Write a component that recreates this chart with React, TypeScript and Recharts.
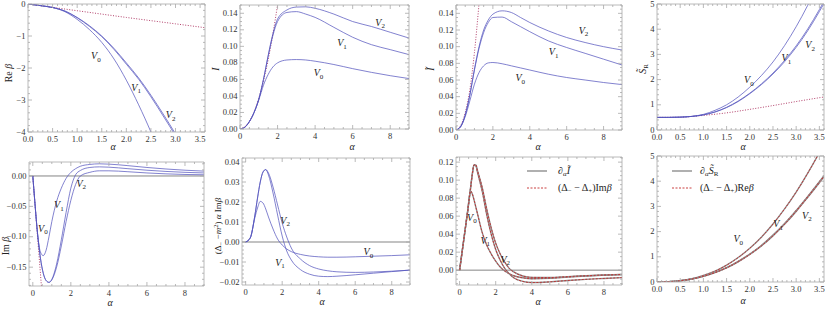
import React from "react";
import { LineChart, Line, XAxis, YAxis, ReferenceLine, ReferenceDot } from "recharts";

// ---- Re beta (top left) ----
const reBetaAlpha = [0, 0.25, 0.5, 0.75, 1, 1.25, 1.5, 1.75, 2, 2.25, 2.5, 2.75, 3, 3.25];
const reBetaV0 = [0, -0.05, -0.11, -0.24, -0.48, -0.8, -1.2, -1.72, -2.38, -3.15, -4.0, -4.95, -6.0, -7.1];
const reBetaV1 = [0, -0.05, -0.11, -0.22, -0.43, -0.7, -1.02, -1.42, -1.88, -2.35, -2.9, -3.5, -4.12, -4.8];
const reBetaV2 = [0, -0.05, -0.11, -0.22, -0.42, -0.68, -1.0, -1.39, -1.84, -2.31, -2.85, -3.44, -4.06, -4.72];
const reBetaDotAlpha = [0, 1, 2, 3, 3.6];
const reBetaDot = [0, -0.21, -0.42, -0.62, -0.74];

// ---- I ----
const iAlpha = [0, 0.25, 0.5, 0.75, 1, 1.25, 1.5, 1.75, 2, 2.5, 3, 3.5, 4, 5, 6, 7, 8, 9];
const iV0 = [0, 0.002, 0.009, 0.02, 0.035, 0.053, 0.066, 0.075, 0.08, 0.0835, 0.084, 0.0835, 0.082, 0.078, 0.073, 0.0685, 0.0645, 0.061];
const iV1 = [0, 0.002, 0.009, 0.02, 0.036, 0.06, 0.088, 0.113, 0.13, 0.141, 0.142, 0.139, 0.135, 0.123, 0.111, 0.102, 0.096, 0.09];
const iV2 = [0, 0.002, 0.009, 0.02, 0.036, 0.06, 0.089, 0.115, 0.133, 0.144, 0.1475, 0.1478, 0.146, 0.139, 0.13, 0.124, 0.117, 0.11];
const iDotAlpha = [0, 0.5, 1, 1.5, 2, 2.1];
const iDot = [0, 0.009, 0.037, 0.084, 0.15, 0.165];

// ---- I tilde ----
const itAlpha = [0, 0.25, 0.5, 0.75, 1, 1.25, 1.5, 1.75, 2, 2.5, 3, 3.5, 4, 5, 6, 7, 8, 9];
const itV0 = [0, 0.004, 0.016, 0.035, 0.055, 0.069, 0.077, 0.0805, 0.081, 0.0795, 0.077, 0.0745, 0.072, 0.067, 0.063, 0.06, 0.057, 0.0545];
const itV1 = [0, 0.004, 0.018, 0.042, 0.072, 0.098, 0.117, 0.129, 0.135, 0.1355, 0.13, 0.124, 0.118, 0.107, 0.099, 0.092, 0.085, 0.078];
const itV2 = [0, 0.004, 0.018, 0.042, 0.073, 0.1, 0.12, 0.132, 0.139, 0.143, 0.141, 0.135, 0.129, 0.119, 0.111, 0.105, 0.1, 0.096];
const itDotAlpha = [0, 0.25, 0.5, 0.75, 1, 1.25];
const itDot = [0, 0.005, 0.021, 0.048, 0.093, 0.152];

// ---- S tilde R ----
const srAlpha = [0, 0.25, 0.5, 0.75, 1, 1.25, 1.5, 1.75, 2, 2.25, 2.5, 2.75, 3, 3.25, 3.5, 3.6];
const srV0 = [0.5, 0.5, 0.51, 0.54, 0.62, 0.78, 1.0, 1.31, 1.7, 2.16, 2.7, 3.35, 4.1, 4.95, 5.9, 6.3];
const srV1 = [0.5, 0.5, 0.51, 0.54, 0.6, 0.72, 0.9, 1.15, 1.46, 1.83, 2.26, 2.76, 3.34, 4.01, 4.78, 5.1];
const srV2 = [0.5, 0.5, 0.51, 0.54, 0.6, 0.71, 0.89, 1.13, 1.44, 1.8, 2.22, 2.71, 3.28, 3.94, 4.7, 5.02];
const srDotAlpha = [0, 0.5, 1, 1.5, 2, 2.5, 3, 3.6];
const srDot = [0.5, 0.51, 0.58, 0.68, 0.82, 0.97, 1.13, 1.31];

// ---- Im beta ----
const imAlpha = [0, 0.1, 0.25, 0.4, 0.55, 0.7, 0.85, 1, 1.25, 1.5, 1.75, 2, 2.25, 2.5, 3, 3.5, 4, 5, 6, 7, 8, 9];
const imV0 = [0, -0.04, -0.095, -0.125, -0.131, -0.122, -0.1, -0.075, -0.042, -0.02, -0.004, 0.006, 0.012, 0.016, 0.019, 0.02, 0.0195, 0.017, 0.014, 0.0115, 0.0095, 0.008];
const imV1 = [0, -0.04, -0.095, -0.135, -0.16, -0.172, -0.175, -0.17, -0.145, -0.105, -0.06, -0.02, 0.002, 0.009, 0.014, 0.015, 0.0145, 0.012, 0.0095, 0.0075, 0.006, 0.005];
const imV2 = [0, -0.04, -0.095, -0.135, -0.16, -0.172, -0.175, -0.171, -0.15, -0.115, -0.075, -0.04, -0.014, 0.0, 0.006, 0.0085, 0.0085, 0.007, 0.005, 0.0035, 0.0025, 0.002];
const imDotAlpha = [0, 0.5];
const imDot = [0, -0.2];

// ---- (Delta- - m^2) alpha Im beta ----
const wAlpha = [0, 0.25, 0.5, 0.65, 0.8, 0.95, 1.1, 1.25, 1.5, 1.75, 2, 2.25, 2.5, 3, 3.5, 4, 4.5, 5, 6, 7, 8, 9];
const wV0 = [0, 0.002, 0.012, 0.017, 0.0203, 0.0195, 0.0165, 0.0125, 0.0065, 0.0015, -0.0015, -0.0035, -0.0048, -0.0062, -0.007, -0.0074, -0.0076, -0.0076, -0.0074, -0.0071, -0.0068, -0.0064];
const wV1 = [0, 0.002, 0.013, 0.022, 0.03, 0.035, 0.0362, 0.0335, 0.0245, 0.0135, 0.003, -0.0045, -0.009, -0.0138, -0.0161, -0.0171, -0.0173, -0.0171, -0.0164, -0.0156, -0.0148, -0.014];
const wV2 = [0, 0.002, 0.013, 0.022, 0.03, 0.035, 0.0362, 0.0345, 0.0275, 0.0185, 0.0095, 0.0025, -0.003, -0.0085, -0.0118, -0.0135, -0.0144, -0.0149, -0.0152, -0.015, -0.0146, -0.0141];

// ---- d_alpha I tilde ----
const dIAlpha = [0, 0.15, 0.3, 0.45, 0.6, 0.7, 0.8, 0.9, 1, 1.25, 1.5, 1.75, 2, 2.25, 2.5, 2.75, 3, 3.5, 4, 5, 6, 7, 8, 9];
const dIV0 = [0, 0.022, 0.044, 0.066, 0.088, 0.085, 0.078, 0.07, 0.062, 0.042, 0.028, 0.018, 0.01, 0.0035, -0.001, -0.004, -0.0062, -0.0085, -0.0095, -0.009, -0.0077, -0.0065, -0.0056, -0.0049];
const dIV1 = [0, 0.022, 0.044, 0.066, 0.09, 0.106, 0.117, 0.116, 0.108, 0.088, 0.062, 0.04, 0.023, 0.011, 0.002, -0.004, -0.0085, -0.0125, -0.0138, -0.013, -0.0115, -0.0102, -0.0092, -0.0083];
const dIV2 = [0, 0.022, 0.044, 0.066, 0.09, 0.106, 0.117, 0.117, 0.11, 0.092, 0.068, 0.047, 0.03, 0.018, 0.009, 0.002, -0.002, -0.0065, -0.008, -0.0082, -0.0072, -0.0062, -0.0054, -0.0048];

// ---- d_alpha S tilde R ----
const dSAlpha = [0, 0.25, 0.5, 0.75, 1, 1.25, 1.5, 1.75, 2, 2.25, 2.5, 2.75, 3, 3.25, 3.5, 3.6];
const dSV0 = [0, 0.013, 0.055, 0.13, 0.26, 0.43, 0.67, 0.97, 1.34, 1.78, 2.3, 2.9, 3.57, 4.32, 5.14, 5.5];
const dSV1 = [0, 0.012, 0.05, 0.12, 0.23, 0.38, 0.57, 0.82, 1.11, 1.45, 1.86, 2.32, 2.84, 3.4, 3.98, 4.22];
const dSV2 = [0, 0.012, 0.05, 0.118, 0.225, 0.37, 0.56, 0.8, 1.09, 1.43, 1.83, 2.29, 2.8, 3.36, 3.94, 4.18];

// tick labels
const alphaShortTicks = [0, 0.5, 1, 1.5, 2, 2.5, 3, 3.5];
const alphaShortLabels = ["0.0", "0.5", "1.0", "1.5", "2.0", "2.5", "3.0", "3.5"];
const alphaLongTicks = [0, 2, 4, 6, 8];
const alphaLongLabels = ["0", "2", "4", "6", "8"];
const reBetaTicks = [0, -1, -2, -3, -4];
const reBetaLabels = ["0", "\u22121", "\u22122", "\u22123", "\u22124"];
const iTicks = [0, 0.02, 0.04, 0.06, 0.08, 0.1, 0.12, 0.14];
const iLabels = ["0.00", "0.02", "0.04", "0.06", "0.08", "0.10", "0.12", "0.14"];
const fiveTicks = [0, 1, 2, 3, 4, 5];
const fiveLabels = ["0", "1", "2", "3", "4", "5"];
const imTicks = [0, -0.05, -0.1, -0.15];
const imLabels = ["0.00", "\u22120.05", "\u22120.10", "\u22120.15"];
const wTicks = [-0.02, -0.01, 0, 0.01, 0.02, 0.03, 0.04];
const wLabels = ["\u22120.02", "\u22120.01", "0.00", "0.01", "0.02", "0.03", "0.04"];
const dITicks = [0, 0.02, 0.04, 0.06, 0.08, 0.1, 0.12];
const dILabels = ["0.00", "0.02", "0.04", "0.06", "0.08", "0.10", "0.12"];

const FONT = "'Times New Roman', 'Liberation Serif', 'DejaVu Serif', serif";
const FRAME = "#a8a8a8";
const TICK_TEXT = "#333";
const V_STROKE = "#5252bd";
const DOT_RED = "#b3406b";
const GRAY = "#8e8e8e";
const RED = "#c42b2b";

type Pt = { a: number; v: number };
const pts = (xs: number[], ys: number[]): Pt[] => xs.map((a, i) => ({ a, v: ys[i] }));

type Curve = { data: Pt[]; stroke: string; width?: number; dash?: string; opacity?: number };
type Tag = { a: number; v: number; n: string };
type Spec = {
  box: [number, number, number, number];
  plot: [number, number, number, number];
  xDomain: [number, number];
  yDomain: [number, number];
  xMajor: number[];
  xLabels: string[];
  xMinor: number;
  yMajor: number[];
  yLabels: string[];
  yMinor: number;
  curves: Curve[];
  tags: Tag[];
  zero?: boolean;
};

const vCurve = (data: Pt[]): Curve => ({ data, stroke: V_STROKE, width: 1, opacity: 0.72 });
const dotCurve = (data: Pt[]): Curve => ({ data, stroke: DOT_RED, width: 1, dash: "1 1.6" });
const pair = (data: Pt[]): Curve[] => [
  { data, stroke: GRAY, width: 1.4 },
  { data, stroke: RED, width: 0.9, dash: "2 1.5" },
];

function mergeTicks(major: number[], domain: [number, number], step: number) {
  const out = new Set<number>(major.map((m) => +m.toFixed(6)));
  for (let k = Math.ceil(domain[0] / step - 1e-9); k * step <= domain[1] + 1e-9; k++) {
    out.add(+(k * step).toFixed(6));
  }
  return Array.from(out).sort((a, b) => a - b);
}

function frameTick(side: string, major: number[], labels: string[] | null) {
  return (props: any) => {
    const { x, y, payload } = props;
    const i = major.findIndex((m) => Math.abs(m - payload.value) < 1e-7);
    const len = i >= 0 ? 4 : 2;
    let line: React.ReactNode = null;
    let text: React.ReactNode = null;
    const txt = { fontFamily: FONT, fontSize: 8.5, fill: TICK_TEXT };
    if (side === "bottom") {
      line = <line x1={x} y1={y} x2={x} y2={y - len} />;
      if (i >= 0 && labels) text = <text x={x} y={y + 9.5} textAnchor="middle" {...txt}>{labels[i]}</text>;
    } else if (side === "top") {
      line = <line x1={x} y1={y} x2={x} y2={y + len} />;
    } else if (side === "left") {
      line = <line x1={x} y1={y} x2={x + len} y2={y} />;
      if (i >= 0 && labels) text = <text x={x - 2.5} y={y + 2.6} textAnchor="end" {...txt}>{labels[i]}</text>;
    } else {
      line = <line x1={x} y1={y} x2={x - len} y2={y} />;
    }
    return (
      <g>
        <g stroke={FRAME} strokeWidth={0.8}>{line}</g>
        {text}
      </g>
    );
  };
}

const tagShape = (n: string) => (p: any) => (
  <text x={p.cx} y={p.cy + 3.5} textAnchor="middle" fontFamily={FONT} fontSize={10} fill="#222">
    <tspan fontStyle="italic">V</tspan>
    <tspan dy={2.5} fontSize={7}>{n}</tspan>
  </text>
);

const panels: Spec[] = [
  {
    box: [0, 0, 207, 150], plot: [28, 4, 205, 132],
    xDomain: [0, 3.6], yDomain: [-4, 0],
    xMajor: alphaShortTicks, xLabels: alphaShortLabels, xMinor: 0.1,
    yMajor: reBetaTicks, yLabels: reBetaLabels, yMinor: 0.2,
    curves: [
      dotCurve(pts(reBetaDotAlpha, reBetaDot)),
      vCurve(pts(reBetaAlpha, reBetaV0)),
      vCurve(pts(reBetaAlpha, reBetaV1)),
      vCurve(pts(reBetaAlpha, reBetaV2)),
    ],
    tags: [{ a: 1.38, v: -1.61, n: "0" }, { a: 2.2, v: -2.6, n: "1" }, { a: 2.9, v: -3.46, n: "2" }],
  },
  {
    box: [207, 0, 213, 150], plot: [240, 5, 409, 129],
    xDomain: [0, 9], yDomain: [0, 0.15],
    xMajor: alphaLongTicks, xLabels: alphaLongLabels, xMinor: 0.5,
    yMajor: iTicks, yLabels: iLabels, yMinor: 0.005,
    curves: [
      dotCurve(pts(iDotAlpha, iDot)),
      vCurve(pts(iAlpha, iV0)),
      vCurve(pts(iAlpha, iV1)),
      vCurve(pts(iAlpha, iV2)),
    ],
    tags: [{ a: 4.18, v: 0.0678, n: "0" }, { a: 5.43, v: 0.1045, n: "1" }, { a: 7.46, v: 0.129, n: "2" }],
  },
  {
    box: [420, 0, 210, 150], plot: [456, 5, 622, 130],
    xDomain: [0, 9], yDomain: [0, 0.15],
    xMajor: alphaLongTicks, xLabels: alphaLongLabels, xMinor: 0.5,
    yMajor: iTicks, yLabels: iLabels, yMinor: 0.005,
    curves: [
      dotCurve(pts(itDotAlpha, itDot)),
      vCurve(pts(itAlpha, itV0)),
      vCurve(pts(itAlpha, itV1)),
      vCurve(pts(itAlpha, itV2)),
    ],
    tags: [{ a: 3.48, v: 0.063, n: "0" }, { a: 5.29, v: 0.094, n: "1" }, { a: 6.91, v: 0.1197, n: "2" }],
  },
  {
    box: [630, 0, 201, 150], plot: [657, 4, 824, 130],
    xDomain: [0, 3.6], yDomain: [0, 5],
    xMajor: alphaShortTicks, xLabels: alphaShortLabels, xMinor: 0.1,
    yMajor: fiveTicks, yLabels: fiveLabels, yMinor: 0.2,
    curves: [
      dotCurve(pts(srDotAlpha, srDot)),
      vCurve(pts(srAlpha, srV0)),
      vCurve(pts(srAlpha, srV1)),
      vCurve(pts(srAlpha, srV2)),
    ],
    tags: [{ a: 1.98, v: 2.0, n: "0" }, { a: 2.79, v: 2.86, n: "1" }, { a: 3.3, v: 3.38, n: "2" }],
  },
  {
    box: [0, 148, 207, 162], plot: [29, 162, 204, 286],
    xDomain: [-0.2, 9], yDomain: [-0.181, 0.023],
    xMajor: alphaLongTicks, xLabels: alphaLongLabels, xMinor: 0.5,
    yMajor: imTicks, yLabels: imLabels, yMinor: 0.01,
    zero: true,
    curves: [
      dotCurve(pts(imDotAlpha, imDot)),
      vCurve(pts(imAlpha, imV0)),
      vCurve(pts(imAlpha, imV1)),
      vCurve(pts(imAlpha, imV2)),
    ],
    tags: [{ a: 0.53, v: -0.0864, n: "0" }, { a: 1.37, v: -0.0476, n: "1" }, { a: 2.55, v: -0.0116, n: "2" }],
  },
  {
    box: [207, 148, 213, 162], plot: [242, 158, 410, 285],
    xDomain: [-0.2, 9], yDomain: [-0.0215, 0.042],
    xMajor: alphaLongTicks, xLabels: alphaLongLabels, xMinor: 0.5,
    yMajor: wTicks, yLabels: wLabels, yMinor: 0.002,
    zero: true,
    curves: [vCurve(pts(wAlpha, wV0)), vCurve(pts(wAlpha, wV1)), vCurve(pts(wAlpha, wV2))],
    tags: [{ a: 6.72, v: -0.0049, n: "0" }, { a: 1.88, v: -0.0102, n: "1" }, { a: 2.16, v: 0.011, n: "2" }],
  },
  {
    box: [420, 148, 210, 162], plot: [456, 157, 622, 285],
    xDomain: [-0.2, 9], yDomain: [-0.0165, 0.1257],
    xMajor: alphaLongTicks, xLabels: alphaLongLabels, xMinor: 0.5,
    yMajor: dITicks, yLabels: dILabels, yMinor: 0.005,
    zero: true,
    curves: [
      ...pair(pts(dIAlpha, dIV0)),
      ...pair(pts(dIAlpha, dIV1)),
      ...pair(pts(dIAlpha, dIV2)),
    ],
    tags: [{ a: 0.68, v: 0.0587, n: "0" }, { a: 1.42, v: 0.033, n: "1" }, { a: 2.53, v: 0.0121, n: "2" }],
  },
  {
    box: [630, 148, 201, 162], plot: [657, 156, 824, 282],
    xDomain: [0, 3.6], yDomain: [0, 5],
    xMajor: alphaShortTicks, xLabels: alphaShortLabels, xMinor: 0.1,
    yMajor: fiveTicks, yLabels: fiveLabels, yMinor: 0.2,
    curves: [
      ...pair(pts(dSAlpha, dSV0)),
      ...pair(pts(dSAlpha, dSV1)),
      ...pair(pts(dSAlpha, dSV2)),
    ],
    tags: [{ a: 1.75, v: 1.72, n: "0" }, { a: 2.61, v: 2.32, n: "1" }, { a: 3.23, v: 2.65, n: "2" }],
  },
];

// every axis is 1px thick (a 0px axis is not drawn), so the margins give 1px back
const AX = 1;

function FramedPanel({ p }: { p: Spec }) {
  const [bx, by, bw, bh] = p.box;
  const [pl, pt, pr, pb] = p.plot;
  const margin = { left: pl - bx - AX, top: pt - by - AX, right: bx + bw - pr - AX, bottom: by + bh - pb - AX };
  const xt = mergeTicks(p.xMajor, p.xDomain, p.xMinor);
  const yt = mergeTicks(p.yMajor, p.yDomain, p.yMinor);
  const common = { allowDataOverflow: true, interval: 0 as const, tickSize: 0, tickMargin: 0, tickLine: false, axisLine: { stroke: FRAME, strokeWidth: 0.8 } };
  return (
    <div style={{ position: "absolute", left: bx, top: by }}>
      <LineChart width={bw} height={bh} margin={margin} style={{ overflow: "visible" }}>
        <XAxis xAxisId="b" type="number" dataKey="a" domain={p.xDomain} ticks={xt} height={AX} tick={frameTick("bottom", p.xMajor, p.xLabels)} {...common} />
        <XAxis xAxisId="t" orientation="top" type="number" dataKey="a" domain={p.xDomain} ticks={xt} height={AX} tick={frameTick("top", p.xMajor, null)} {...common} />
        <YAxis yAxisId="l" type="number" domain={p.yDomain} ticks={yt} width={AX} tick={frameTick("left", p.yMajor, p.yLabels)} {...common} />
        <YAxis yAxisId="r" orientation="right" type="number" domain={p.yDomain} ticks={yt} width={AX} tick={frameTick("right", p.yMajor, null)} {...common} />
        {p.zero && <ReferenceLine xAxisId="b" yAxisId="l" y={0} stroke="#858585" strokeWidth={1} />}
        {p.curves.map((c, i) => (
          <Line
            key={i}
            xAxisId="b"
            yAxisId="l"
            data={c.data}
            dataKey="v"
            type="monotone"
            stroke={c.stroke}
            strokeWidth={c.width ?? 1}
            strokeDasharray={c.dash}
            strokeOpacity={c.opacity ?? 1}
            dot={false}
            activeDot={false}
            isAnimationActive={false}
          />
        ))}
        {p.tags.map((t, i) => (
          <ReferenceDot key={"t" + i} xAxisId="b" yAxisId="l" x={t.a} y={t.v} r={0} shape={tagShape(t.n)} />
        ))}
      </LineChart>
    </div>
  );
}

const rot = (x: number, y: number) => `translate(${x},${y}) rotate(-90)`;

function Titles() {
  const t = { fontFamily: FONT, fontSize: 10, fill: "#222" };
  const alphaAt = (x: number, y: number) => (
    <text x={x} y={y} textAnchor="middle" fontStyle="italic" {...t}>α</text>
  );
  return (
    <svg width={831} height={310} style={{ position: "absolute", left: 0, top: 0, pointerEvents: "none" }}>
      {alphaAt(113, 150)}
      {alphaAt(352, 150)}
      {alphaAt(538, 150)}
      {alphaAt(743, 150)}
      {alphaAt(110, 306)}
      {alphaAt(322, 305)}
      {alphaAt(538, 305)}
      {alphaAt(743, 304)}

      <text transform={rot(12, 73)} textAnchor="middle" {...t}>
        Re <tspan fontStyle="italic">β</tspan>
      </text>
      <text transform={rot(219, 69)} textAnchor="middle" fontStyle="italic" {...t}>I</text>
      <text transform={rot(434, 69)} textAnchor="middle" fontStyle="italic" {...t}>Ĩ</text>
      <text transform={rot(646, 69)} textAnchor="middle" {...t}>
        <tspan fontStyle="italic">S̃</tspan>
        <tspan dy={2} fontSize={7}>R</tspan>
      </text>
      <text transform={rot(9, 246)} textAnchor="middle" {...t}>
        Im <tspan fontStyle="italic">β</tspan>
      </text>
      <text transform={rot(221, 226)} textAnchor="middle" {...t} fontSize={9}>
        (Δ<tspan dy={2} fontSize={6.5}>−</tspan>
        <tspan dy={-2}> −</tspan>
        <tspan fontStyle="italic">m</tspan>
        <tspan dy={-3} fontSize={6.5}>2</tspan>
        <tspan dy={3}>) </tspan>
        <tspan fontStyle="italic">α</tspan> Im<tspan fontStyle="italic">β</tspan>
      </text>

      <line x1={527} y1={171} x2={547} y2={171} stroke={GRAY} strokeWidth={1.4} />
      <text x={558} y={174} {...t}>
        ∂<tspan dy={2} fontSize={7} fontStyle="italic">α</tspan>
        <tspan dy={-2} fontStyle="italic">Ĩ</tspan>
      </text>
      <line x1={527} y1={188} x2={547} y2={188} stroke={RED} strokeWidth={0.9} strokeDasharray="2 1.5" />
      <text x={558} y={191} {...t}>
        (Δ<tspan dy={2} fontSize={7}>−</tspan>
        <tspan dy={-2}> − Δ</tspan>
        <tspan dy={2} fontSize={7}>+</tspan>
        <tspan dy={-2}>)Im</tspan>
        <tspan fontStyle="italic">β</tspan>
      </text>

      <line x1={672} y1={171} x2={692} y2={171} stroke={GRAY} strokeWidth={1.4} />
      <text x={700} y={174} {...t}>
        ∂<tspan dy={2} fontSize={7} fontStyle="italic">α</tspan>
        <tspan dy={-2} fontStyle="italic">S̃</tspan>
        <tspan dy={2} fontSize={7}>R</tspan>
      </text>
      <line x1={672} y1={188} x2={692} y2={188} stroke={RED} strokeWidth={0.9} strokeDasharray="2 1.5" />
      <text x={700} y={191} {...t}>
        (Δ<tspan dy={2} fontSize={7}>−</tspan>
        <tspan dy={-2}> − Δ</tspan>
        <tspan dy={2} fontSize={7}>+</tspan>
        <tspan dy={-2}>)Re</tspan>
        <tspan fontStyle="italic">β</tspan>
      </text>
    </svg>
  );
}

export default function App() {
  return (
    <div style={{ position: "fixed", left: 0, top: 0, width: 831, height: 310, background: "#fff", overflow: "hidden", fontFamily: FONT }}>
      {panels.map((p, i) => (
        <FramedPanel key={i} p={p} />
      ))}
      <Titles />
    </div>
  );
}
